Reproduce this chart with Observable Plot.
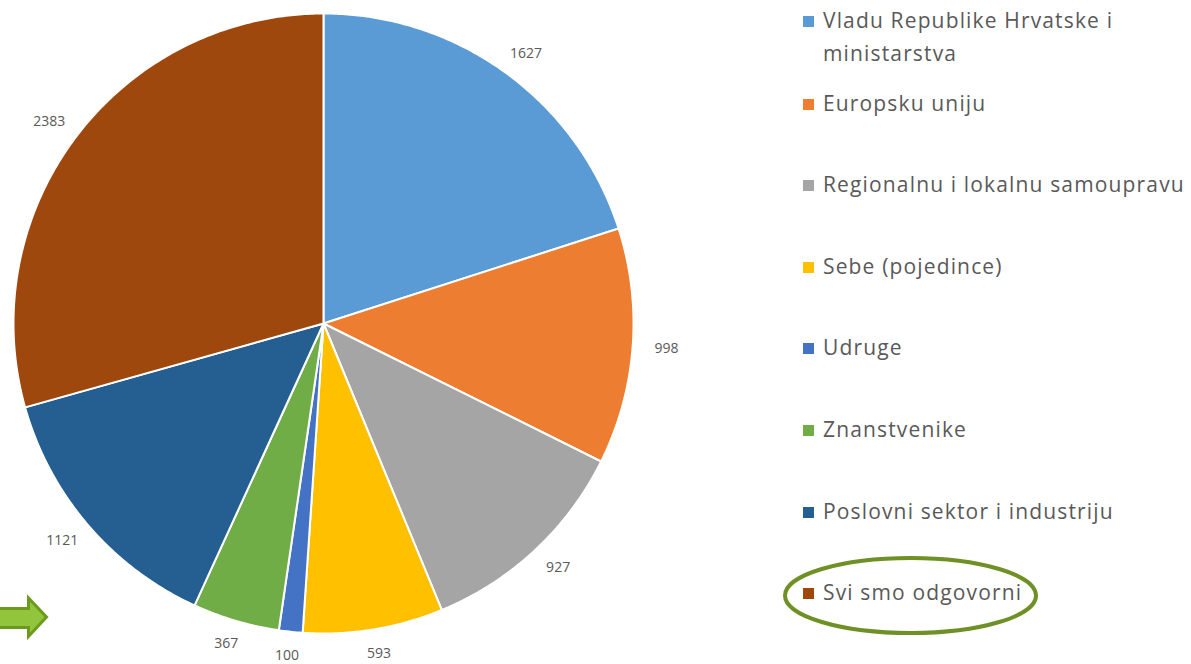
<!DOCTYPE html>
<html><head><meta charset="utf-8">
<script src="https://cdn.jsdelivr.net/npm/d3@7"></script>
<script src="https://cdn.jsdelivr.net/npm/@observablehq/plot@0.6"></script>
<style>
body{margin:0;background:#fff;font-family:"Open Sans",sans-serif;}
#wrap{position:relative;width:1191px;height:664px;overflow:hidden;background:#fff;}
#chart{position:absolute;left:0;top:0;}
.item{position:absolute;left:803px;width:388px;display:flex;align-items:flex-start;font-size:21px;line-height:33px;letter-spacing:1.15px;color:#595959;}
.sw{width:11px;height:11px;margin-top:12px;margin-right:9px;flex:none;}
#deco{position:absolute;left:0;top:0;pointer-events:none;}
</style></head><body>
<div id="wrap"><div id="chart"></div><div id="legend"></div>
<svg id="deco" width="1191" height="664">
  <path d="M-5,608.5 L28.5,608.5 L28.5,598 L46.5,617 L28.5,636.5 L28.5,627.5 L-5,627.5 Z" fill="#92C43C" stroke="#6B9A1E" stroke-width="3" stroke-linejoin="miter"/>
  <ellipse cx="910.5" cy="595.5" rx="125.5" ry="37.5" fill="none" stroke="#6E9024" stroke-width="4"/>
</svg>
</div>
<script>
const categories = ["Vladu Republike Hrvatske i ministarstva","Europsku uniju","Regionalnu i lokalnu samoupravu","Sebe (pojedince)","Udruge","Znanstvenike","Poslovni sektor i industriju","Svi smo odgovorni"];
const values = [1627, 998, 927, 593, 100, 367, 1121, 2383];
const colors = ["#5B9BD5","#ED7D31","#A5A5A5","#FFC000","#4472C4","#70AD47","#255E91","#9E480E"];

const rows = categories.map((c, i) => ({category: c, value: values[i]}));
const R = 310, cx = 323, cy = 323, W = 770, H = 664;
const arcs = d3.pie().sort(null).value(d => d.value)(rows);

// polygon outline of each slice (center -> arc -> center), in units of the radius
const slicePts = [];
for (const a of arcs) {
  slicePts.push({category: a.data.category, x: 0, y: 0});
  const n = Math.max(2, Math.ceil((a.endAngle - a.startAngle) / (Math.PI / 360)));
  for (let k = 0; k <= n; k++) {
    const t = a.startAngle + (a.endAngle - a.startAngle) * k / n;
    slicePts.push({category: a.data.category, x: Math.sin(t), y: Math.cos(t)});
  }
  slicePts.push({category: a.data.category, x: 0, y: 0});
}

const labels = arcs.map(a => {
  const m = (a.startAngle + a.endAngle) / 2, ux = Math.sin(m), uy = Math.cos(m);
  return {text: String(a.data.value), x: ux * (1 + 19 / R) + ux * 15 / R, y: uy * (1 + 17 / R) + uy * 7 / R};
});

const chart = Plot.plot({
  width: W, height: H, margin: 0,
  x: {domain: [-cx / R, (W - cx) / R], axis: null},
  y: {domain: [-(H - cy) / R, cy / R], axis: null},
  color: {domain: categories, range: colors},
  style: {background: "transparent"},
  marks: [
    Plot.line(slicePts, {x: "x", y: "y", z: "category", fill: "category", stroke: "#fff", strokeWidth: 2, strokeLinejoin: "round", curve: "linear"}),
    Plot.text(labels, {x: "x", y: "y", text: "text", fill: "#595959", fontSize: 14, fontFamily: "Open Sans", textAnchor: "middle", lineAnchor: "middle"})
  ]
});
document.getElementById("chart").appendChild(chart);

const leg = document.getElementById("legend");
categories.forEach((c, i) => {
  const yc = i === 0 ? 20 : 103 + (i - 1) * 81.6;
  const d = document.createElement("div");
  d.className = "item";
  d.style.top = (yc - 16.5) + "px";
  const sw = document.createElement("div");
  sw.className = "sw"; sw.style.background = colors[i];
  const t = document.createElement("div");
  t.textContent = c;
  if (i === 0) t.style.width = "310px";
  d.appendChild(sw); d.appendChild(t);
  leg.appendChild(d);
});
</script>
</body></html>
